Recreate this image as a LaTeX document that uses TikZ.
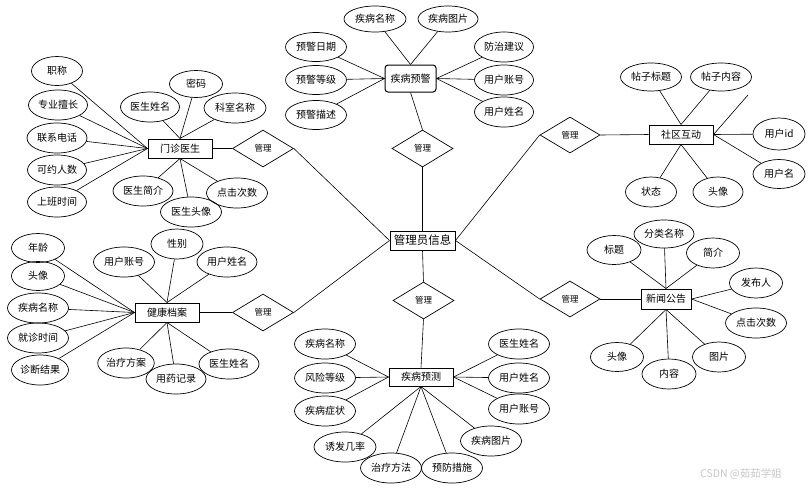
\documentclass[tikz,border=0pt]{standalone}
\usepackage{fontspec}
\setmainfont{Noto Sans CJK SC}
\usetikzlibrary{shapes.geometric,shadows}
\begin{document}
\begin{tikzpicture}[x=1pt,y=-1pt,
  attr/.style={ellipse,draw,line width=0.7pt,inner sep=0pt,minimum width=60pt,minimum height=30pt,font=\fontsize{10pt}{11pt}\selectfont},
  ent/.style={rectangle,draw,line width=1pt,inner sep=0pt,minimum width=64pt,minimum height=19pt,font=\fontsize{10pt}{12pt}\selectfont},
  rel/.style={diamond,draw,line width=0.7pt,inner sep=0pt,minimum width=61pt,minimum height=37pt,font=\fontsize{8.5pt}{10pt}\selectfont},
  conn/.style={line width=0.6pt}]
\useasboundingbox (0,0) rectangle (811,496);
\fill[white] (0,0) rectangle (811,496);

% ===== central =====
\node[ent,fill=white,minimum width=65pt,font=\fontsize{11.5pt}{13pt}\selectfont,drop shadow={shadow xshift=1pt,shadow yshift=-1.2pt,fill=black!25}] (A) at (422.5,240.5) {管理员信息};

% ===== 门诊医生 =====
\node[ent] (m1) at (180,148.5) {门诊医生};
\node[rel] (d1) at (263,148.5) {管理};
\node[attr,minimum width=51pt,minimum height=29pt] (ma1) at (57,71) {职称};
\node[attr,minimum width=59pt] (ma2) at (58,105) {专业擅长};
\node[attr,minimum width=60pt] (ma3) at (57,138) {联系电话};
\node[attr,minimum width=59pt] (ma4) at (57,170) {可约人数};
\node[attr,minimum width=59pt] (ma5) at (57,202) {上班时间};
\node[attr,minimum width=59pt] (ma6) at (150,107) {医生姓名};
\node[attr,minimum width=53pt,minimum height=27pt] (ma7) at (196,84) {密码};
\node[attr,minimum width=62pt] (ma8) at (235,108) {科室名称};
\node[attr,minimum width=60pt] (ma9) at (143,191) {医生简介};
\node[attr,minimum width=61pt] (ma10) at (191,212) {医生头像};
\node[attr,minimum width=61pt] (ma11) at (237,193) {点击次数};
\foreach \a in {ma1,ma2,ma3,ma4,ma5} \draw[conn] (m1.west) -- (\a);
\foreach \a in {ma6,ma7,ma8} \draw[conn] (m1.north) -- (\a);
\foreach \a in {ma9,ma10,ma11} \draw[conn] (m1.south) -- (\a);
\draw[conn] (m1.east) -- (d1.west);
\draw[conn] (d1.east) -- (A.west);

% ===== 健康档案 =====
\node[ent] (h1) at (167,312.5) {健康档案};
\node[rel] (d2) at (263,312.5) {管理};
\node[attr,minimum width=53pt,minimum height=29pt] (ha1) at (38,248) {年龄};
\node[attr,minimum width=53pt,minimum height=29pt] (ha2) at (38,276) {头像};
\node[attr,minimum width=61pt] (ha3) at (38,308) {疾病名称};
\node[attr,minimum width=61pt] (ha4) at (38,338) {就诊时间};
\node[attr,minimum width=57pt] (ha5) at (40,370) {诊断结果};
\node[attr,minimum width=61pt] (ha6) at (124,262) {用户账号};
\node[attr,minimum width=52pt] (ha7) at (177,244) {性别};
\node[attr,minimum width=60pt] (ha8) at (227,262) {用户姓名};
\node[attr,minimum width=54pt] (ha9) at (126,363) {治疗方案};
\node[attr,minimum width=60pt] (ha10) at (176,379) {用药记录};
\node[attr,minimum width=60pt] (ha11) at (229,364) {医生姓名};
\foreach \a in {ha1,ha2,ha3,ha4,ha5} \draw[conn] (h1.west) -- (\a);
\foreach \a in {ha6,ha7,ha8} \draw[conn] (h1.north) -- (\a);
\foreach \a in {ha9,ha10,ha11} \draw[conn] (h1.south) -- (\a);
\draw[conn] (h1.east) -- (d2.west);
\draw[conn] (d2.east) -- (A.west);

% ===== 疾病预警 =====
\node[ent,rounded corners=3pt,minimum width=51pt,minimum height=27pt] (w1) at (410.5,78.5) {疾病预警};
\node[rel] (d3) at (422.5,148.5) {管理};
\node[attr,minimum width=62pt,minimum height=26pt] (wa1) at (375,19) {疾病名称};
\node[attr,minimum width=60pt,minimum height=26pt] (wa2) at (448,19) {疾病图片};
\node[attr,minimum width=61pt,minimum height=29pt] (wa3) at (316,47) {预警日期};
\node[attr,minimum width=61pt,minimum height=29pt] (wa4) at (316,80) {预警等级};
\node[attr,minimum width=61pt,minimum height=29pt] (wa5) at (316,115) {预警描述};
\node[attr,minimum width=59pt,minimum height=30pt] (wa6) at (504,47) {防治建议};
\node[attr,minimum width=59pt,minimum height=30pt] (wa7) at (504,80) {用户账号};
\node[attr,minimum width=59pt,minimum height=30pt] (wa8) at (504,112) {用户姓名};
\foreach \a in {wa1,wa2} \draw[conn] (w1.north) -- (\a);
\foreach \a in {wa3,wa4,wa5} \draw[conn] (w1.west) -- (\a);
\foreach \a in {wa6,wa7,wa8} \draw[conn] (w1.east) -- (\a);
\draw[conn] (w1.south) -- (d3.north);
\draw[conn] (d3.south) -- (A.north);

% ===== 疾病预测 =====
\node[rel] (d4) at (423.5,300.5) {管理};
\node[ent,minimum height=18pt] (p1) at (421,377) {疾病预测};
\node[attr,minimum width=61pt] (pa1) at (325,344) {疾病名称};
\node[attr,minimum width=61pt] (pa2) at (325,378) {风险等级};
\node[attr,minimum width=61pt] (pa3) at (325,411) {疾病症状};
\node[attr,minimum width=62pt] (pa4) at (345,447) {诱发几率};
\node[attr,minimum width=61pt] (pa5) at (391,468) {治疗方法};
\node[attr,minimum width=61pt] (pa6) at (452,468) {预防措施};
\node[attr,minimum width=61pt] (pa7) at (491,441) {疾病图片};
\node[attr,minimum width=61pt] (pa8) at (519,344) {医生姓名};
\node[attr,minimum width=61pt] (pa9) at (519,378) {用户姓名};
\node[attr,minimum width=61pt] (pa10) at (519,409) {用户账号};
\foreach \a in {pa1,pa2,pa3} \draw[conn] (p1.west) -- (\a);
\foreach \a in {pa4,pa5,pa6,pa7} \draw[conn] (p1.south) -- (\a);
\foreach \a in {pa8,pa9,pa10} \draw[conn] (p1.east) -- (\a);
\draw[conn] (A.south) -- (d4.north);
\draw[conn] (d4.south) -- (p1.north);

% ===== 社区互动 =====
\node[ent] (s1) at (681,134.5) {社区互动};
\node[rel,minimum width=60pt,minimum height=36pt] (d5) at (570,135) {管理};
\node[attr,minimum width=61pt,minimum height=28pt] (sa1) at (651,77) {帖子标题};
\node[attr,minimum width=61pt,minimum height=28pt] (sa2) at (721,77) {帖子内容};
\node[attr,minimum width=52pt,minimum height=32pt] (sa3) at (779,134) {用户id};
\node[attr,minimum width=52pt,minimum height=29pt] (sa4) at (779,174) {用户名};
\node[attr,minimum width=51pt] (sa5) at (651,192) {状态};
\node[attr,minimum width=50pt] (sa6) at (718,192) {头像};
\coordinate (sfree) at (748,95);
\foreach \a in {sa1,sa2} \draw[conn] (s1.north) -- (\a);
\foreach \a in {sa3,sa4} \draw[conn] (s1.east) -- (\a);
\foreach \a in {sa5,sa6} \draw[conn] (s1.south) -- (\a);
\draw[conn] (s1.east) -- (sfree);
\draw[conn] (s1.west) -- (d5.east);
\draw[conn] (d5.west) -- (A.east);

% ===== 新闻公告 =====
\node[ent,minimum width=50pt,minimum height=20pt] (n1) at (666,299) {新闻公告};
\node[rel,minimum width=60pt,minimum height=36pt] (d6) at (570,299) {管理};
\node[attr,minimum width=54pt,minimum height=29pt] (na1) at (614,250) {标题};
\node[attr,minimum width=60pt,minimum height=28pt] (na2) at (664,234) {分类名称};
\node[attr,minimum width=53pt] (na3) at (713,253) {简介};
\node[attr,minimum width=53pt] (na4) at (756,283) {发布人};
\node[attr,minimum width=61pt] (na5) at (756,323) {点击次数};
\node[attr,minimum width=53pt,minimum height=29pt] (na6) at (617,357) {头像};
\node[attr,minimum width=54pt] (na7) at (669,374) {内容};
\node[attr,minimum width=53pt] (na8) at (719,357) {图片};
\foreach \a in {na1,na2,na3} \draw[conn] (n1.north) -- (\a);
\foreach \a in {na4,na5} \draw[conn] (n1.east) -- (\a);
\foreach \a in {na6,na7,na8} \draw[conn] (n1.south) -- (\a);
\draw[conn] (n1.west) -- (d6.east);
\draw[conn] (d6.west) -- (A.east);

% watermark
\node[text=black!22,font=\fontsize{10.5pt}{12pt}\selectfont] (wm) at (741,474) {CSDN @茹茹学姐};
\end{tikzpicture}
\end{document}
